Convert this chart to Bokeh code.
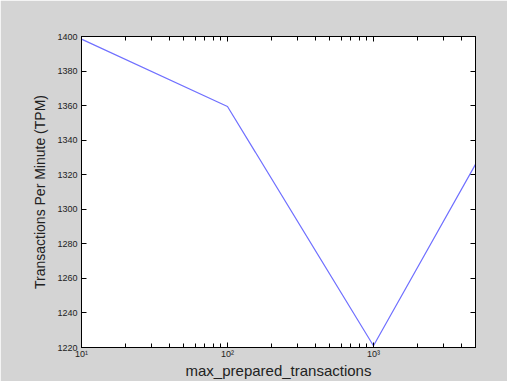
from bokeh.plotting import figure
from bokeh.models import LogAxis, LinearAxis, FixedTicker, Range1d
from bokeh.embed import file_html
from bokeh.resources import INLINE

# Data
max_prepared = [10, 100, 1000, 5000]
tpm = [1398.5, 1359.5, 1221, 1326]
x_major = [10, 100, 1000]
x_labels = {10: "10¹", 100: "10²", 1000: "10³"}
x_minor = [m * 10 ** k for k in (1, 2, 3) for m in range(2, 10) if m * 10 ** k <= 5000]
y_ticks = list(range(1220, 1401, 20))

GRAY = "#d4d4d4"
FONT = "Liberation Sans"

p = figure(width=507, height=381, output_backend="svg", toolbar_location=None,
           x_axis_type="log", x_range=Range1d(10, 5000), y_range=Range1d(1220, 1400),
           min_border_left=81, min_border_right=32, min_border_top=36, min_border_bottom=28)
p.background_fill_color = "white"
p.border_fill_color = GRAY
p.outline_line_color = "black"
p.outline_line_width = 1
p.grid.visible = False

p.line(max_prepared, tpm, line_color="#7070ff", line_width=1.2)

xt = FixedTicker(ticks=x_major, minor_ticks=x_minor)
yt = FixedTicker(ticks=y_ticks)


def style(ax, labels=True):
    ax.major_tick_in = 5
    ax.major_tick_out = 0
    ax.minor_tick_in = 4
    ax.minor_tick_out = 0
    ax.axis_line_color = "black"
    ax.major_tick_line_color = "black"
    ax.minor_tick_line_color = "black"
    ax.major_label_text_font = FONT
    ax.major_label_text_font_size = "9px"
    ax.major_label_text_color = "#222222"
    ax.axis_label_text_font = FONT
    ax.axis_label_text_font_style = "normal"
    ax.axis_label_text_color = "#222222"
    if not labels:
        ax.major_label_text_alpha = 0
        ax.major_label_text_font_size = "1px"


xa = p.xaxis[0]
xa.ticker = xt
xa.major_label_overrides = x_labels
style(xa)
xa.axis_label = "max_prepared_transactions"
xa.axis_label_text_font_size = "15px"
xa.major_label_standoff = 1
xa.axis_label_standoff = 0

ya = p.yaxis[0]
ya.ticker = yt
style(ya)
ya.minor_tick_line_color = None
ya.axis_label = "Transactions Per Minute (TPM)"
ya.axis_label_text_font_size = "14px"
ya.major_label_standoff = 4
ya.axis_label_standoff = 6

top = LogAxis(ticker=FixedTicker(ticks=x_major, minor_ticks=x_minor))
style(top, labels=False)
p.add_layout(top, "above")

right = LinearAxis(ticker=FixedTicker(ticks=y_ticks))
style(right, labels=False)
right.minor_tick_line_color = None
p.add_layout(right, "right")

open("out.html", "w").write(file_html(p, INLINE))
